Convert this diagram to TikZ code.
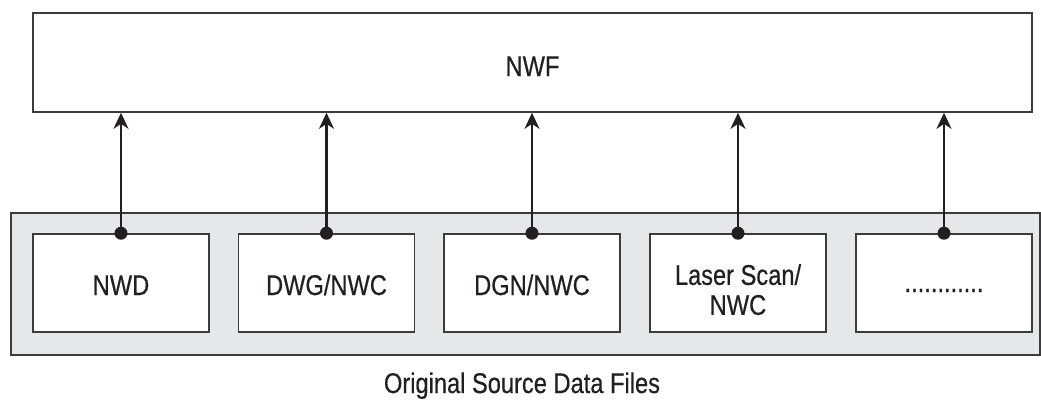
\documentclass[tikz,border=0pt]{standalone}
\usepackage{fontspec}
\setmainfont{Liberation Sans}[FakeStretch=0.83,FakeBold=0.5]
\usetikzlibrary{arrows.meta}
\definecolor{boxline}{HTML}{3C3C3C}
\definecolor{ink}{HTML}{231F20}
\definecolor{panel}{HTML}{E6E7E8}
\tikzset{
  frame/.style={draw=boxline, line width=1.6bp, fill=white, inner sep=0pt},
  srcbox/.style={frame, minimum width=176bp, minimum height=98bp},
  lbl/.style={text=ink, inner sep=0pt, font=\fontsize{28.5bp}{30bp}\selectfont},
  arr/.style={draw=ink, line width=2.4bp, -{Stealth[length=16bp,width=15bp,inset=5bp]}},
  dot/.style={fill=ink}
}
\begin{document}
\begin{tikzpicture}[x=1bp,y=-1bp]
\useasboundingbox (0,0) rectangle (1041,400);
% top box
\node[frame, minimum width=999bp, minimum height=99bp] (nwf) at (532.5,62.5) {};
\node[lbl, anchor=base] (tnwf) at (532.5,76) {NWF};
% outer panel
\node[draw=boxline, line width=1.6bp, fill=panel, minimum width=1029bp, minimum height=142bp, inner sep=0pt] (panel) at (525.5,284) {};
% source boxes
\node[srcbox] (b1) at (121,283) {};
\node[srcbox] (b2) at (326.5,283) {};
\node[srcbox] (b3) at (532,283) {};
\node[srcbox] (b4) at (738,283) {};
\node[srcbox] (b5) at (944,283) {};
\node[lbl, anchor=base] (t1) at (121,295) {NWD};
\node[lbl, anchor=base] (t2) at (326.5,295) {DWG/NWC};
\node[lbl, anchor=base] (t3) at (532,295) {DGN/NWC};
\node[lbl, anchor=north, align=center] (t4) at (738,264) {Laser Scan/\\NWC};
\node[lbl, anchor=base] (t5) at (944,292) {............};
% caption
\node[lbl, anchor=base] (cap) at (522,393) {Original Source Data Files};
% connectors
\foreach \b in {b1,b2,b3,b4,b5}{
  \draw[arr] (\b.north) -- (nwf.south -| \b.north);
  \fill[dot] (\b.north) circle (6.5bp);
}
\end{tikzpicture}
\end{document}
